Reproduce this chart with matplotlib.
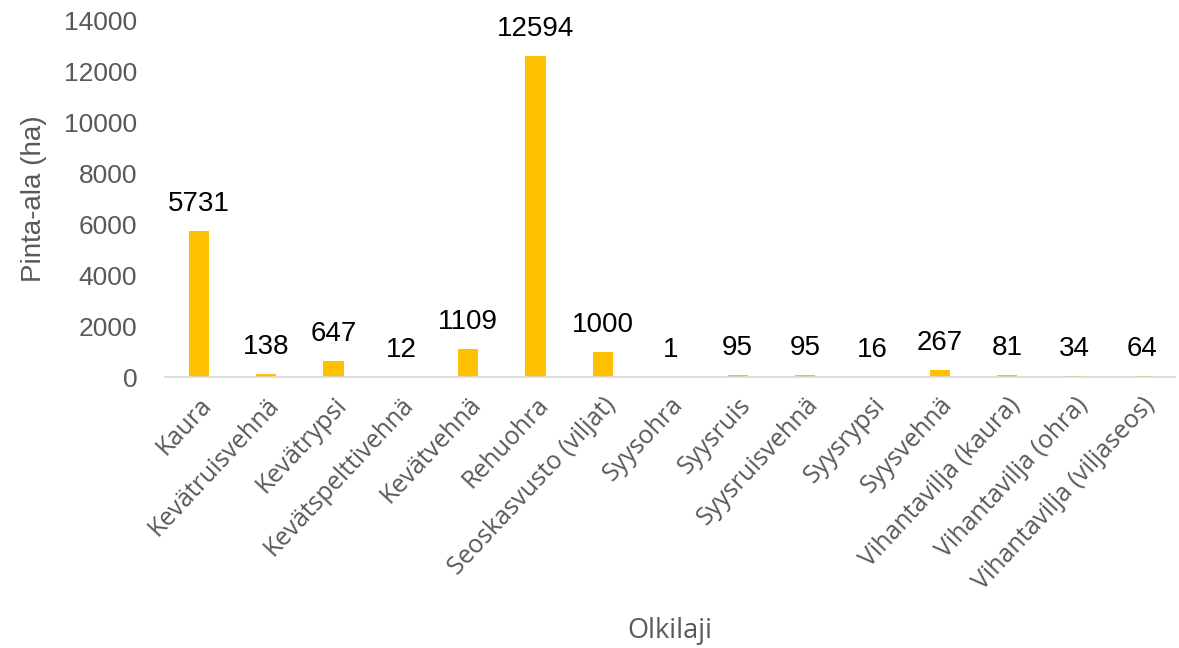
import matplotlib.pyplot as plt
import numpy as np

categories = [
    "Kaura", "Kevätruisvehnä", "Kevätrypsi", "Kevätspelttivehnä", "Kevätvehnä",
    "Rehuohra", "Seoskasvusto (viljat)", "Syysohra", "Syysruis", "Syysruisvehnä",
    "Syysrypsi", "Syysvehnä", "Vihantavilja (kaura)", "Vihantavilja (ohra)",
    "Vihantavilja (viljaseos)",
]
values = [5731, 138, 647, 12, 1109, 12594, 1000, 1, 95, 95, 16, 267, 81, 34, 64]
yticks = [0, 2000, 4000, 6000, 8000, 10000, 12000, 14000]

GRAY = "#595959"

fig = plt.figure(figsize=(11.79, 6.48), dpi=100)
ax = fig.add_axes([0.14, 0.418, 0.857, 0.551])

x = np.arange(len(categories))
bars = ax.bar(x, values, width=0.3, color="#FFC000", zorder=2)
for b, v in zip(bars, values):
    ax.annotate(str(v), (b.get_x() + b.get_width() / 2, v), xytext=(0, 10),
                textcoords="offset points", ha="center", va="bottom",
                fontsize=20, color="black", family="Liberation Sans")

ax.set_xlim(-0.5, len(categories) - 0.5)
ax.set_ylim(0, 14000)
ax.set_yticks(yticks)
ax.set_yticklabels([str(t) for t in yticks], fontsize=19, color=GRAY, family="Liberation Sans")
ax.set_xticks(x)
ax.set_xticklabels(categories, rotation=47, ha="right", rotation_mode="anchor",
                   fontsize=18, color=GRAY, family="Open Sans")
ax.tick_params(axis="both", length=0)
ax.tick_params(axis="y", pad=20)
ax.tick_params(axis="x", pad=11)

for side in ("top", "right", "left"):
    ax.spines[side].set_visible(False)
ax.spines["bottom"].set_color("#D9D9D9")
ax.spines["bottom"].set_linewidth(1.2)

ax.set_ylabel("Pinta-ala (ha)", fontsize=20, color=GRAY, family="Liberation Sans", labelpad=12)
fig.text(0.568, 0.004, "Olkilaji", fontsize=19.5, color=GRAY, family="Open Sans",
         ha="center", va="bottom")

fig.savefig("out.png", dpi=100)
